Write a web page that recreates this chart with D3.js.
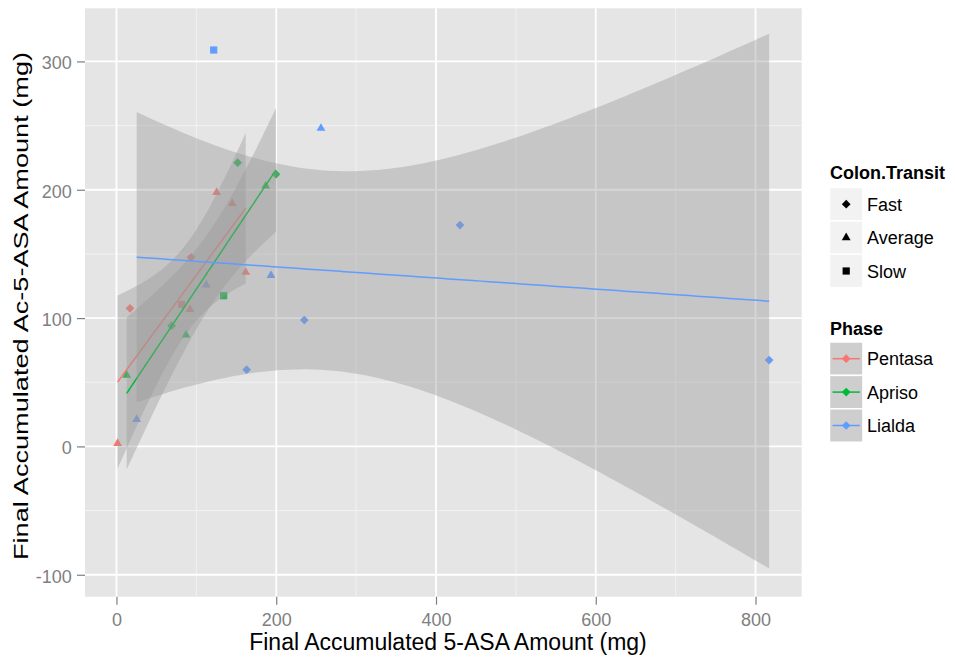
<!DOCTYPE html>
<html>
<head>
<meta charset="utf-8">
<script src="https://cdn.jsdelivr.net/npm/d3@7.9.0/dist/d3.min.js"></script>
<style>
  body { margin: 0; background: #fff; }
  svg { display: block; font-family: "Liberation Sans", Arial, sans-serif; }
</style>
</head>
<body>
<svg id="chart" width="955" height="657"></svg>
<script>
// ---------- DATA ---------- //
const phases = ['Pentasa', 'Apriso', 'Lialda'];
const phaseColors = ['#F8766D', '#00BA38', '#619CFF'];
const transits = ['Fast', 'Average', 'Slow'];

// final accumulated 5-ASA (x) and Ac-5-ASA (y), mg
const pentasaX = [125.4, 145.0, 93.3, 161.8, 16.9, 81.6, 92.0, 1.4];
const pentasaY = [198.0, 189.4, 147.4, 135.7, 107.6, 110.7, 106.8, 2.4];
const pentasaTransit = ['Average', 'Average', 'Fast', 'Average', 'Fast', 'Slow', 'Average', 'Average'];

const aprisoX = [151.7, 199.7, 186.8, 134.2, 69.1, 87.0, 12.8];
const aprisoY = [221.1, 212.0, 202.9, 117.4, 94.1, 86.8, 55.6];
const aprisoTransit = ['Fast', 'Fast', 'Average', 'Slow', 'Fast', 'Average', 'Average'];

const lialdaX = [121.7, 256.0, 430.0, 193.4, 112.4, 235.1, 163.0, 817.0, 25.3];
const lialdaY = [308.9, 247.9, 172.5, 133.3, 125.8, 98.5, 59.8, 67.3, 21.1];
const lialdaTransit = ['Slow', 'Average', 'Fast', 'Average', 'Average', 'Fast', 'Fast', 'Fast', 'Average'];

const xTicks = [0, 200, 400, 600, 800];
const yTicks = [-100, 0, 100, 200, 300];
const xLimits = [-39.4, 857.8];
const yLimits = [-117.1, 341.4];

// t quantiles (0.975) by degrees of freedom
const tCrit = { 1: 12.706, 2: 4.303, 3: 3.182, 4: 2.776, 5: 2.571, 6: 2.447, 7: 2.365, 8: 2.306, 9: 2.262, 10: 2.228 };

const groups = [
  { name: 'Pentasa', xs: pentasaX, ys: pentasaY, tr: pentasaTransit },
  { name: 'Apriso', xs: aprisoX, ys: aprisoY, tr: aprisoTransit },
  { name: 'Lialda', xs: lialdaX, ys: lialdaY, tr: lialdaTransit },
];

// ---------- SETUP ---------- //
const svg = d3.select('#chart');
const panel = { left: 85, right: 801.7, top: 8.3, bottom: 596.7 };

const x = d3.scaleLinear().domain(xLimits).range([panel.left, panel.right]);
const y = d3.scaleLinear().domain(yLimits).range([panel.bottom, panel.top]);
const colors = d3.scaleOrdinal().domain(phases).range(phaseColors);

function shapePath(t) {
  if (t === 'Fast') return d3.symbol(d3.symbolSquare, 38)();
  if (t === 'Average') return d3.symbol(d3.symbolTriangle, 34)();
  return d3.symbol(d3.symbolSquare, 52)();
}
const shapeRotate = (t) => (t === 'Fast' ? 45 : 0);

// panel background + grid
svg.append('rect')
  .attr('x', panel.left).attr('y', panel.top)
  .attr('width', panel.right - panel.left).attr('height', panel.bottom - panel.top)
  .attr('fill', '#E5E5E5');

const mid = (arr) => arr.slice(1).map((v, i) => (v + arr[i]) / 2);
const grid = svg.append('g');
mid(xTicks).forEach((v) => {
  grid.append('line').attr('x1', x(v)).attr('x2', x(v)).attr('y1', panel.top).attr('y2', panel.bottom)
    .attr('stroke', '#F2F2F2').attr('stroke-width', 1);
});
mid(yTicks).forEach((v) => {
  grid.append('line').attr('y1', y(v)).attr('y2', y(v)).attr('x1', panel.left).attr('x2', panel.right)
    .attr('stroke', '#F2F2F2').attr('stroke-width', 1);
});
xTicks.forEach((v) => {
  grid.append('line').attr('x1', x(v)).attr('x2', x(v)).attr('y1', panel.top).attr('y2', panel.bottom)
    .attr('stroke', '#fff').attr('stroke-width', 1.8);
});
yTicks.forEach((v) => {
  grid.append('line').attr('y1', y(v)).attr('y2', y(v)).attr('x1', panel.left).attr('x2', panel.right)
    .attr('stroke', '#fff').attr('stroke-width', 1.8);
});

// points (drawn under the smooths, as ggplot does)
const pts = svg.append('g');
groups.forEach((g) => {
  g.xs.forEach((xv, i) => {
    const t = g.tr[i];
    pts.append('path')
      .attr('d', shapePath(t))
      .attr('transform', `translate(${x(xv)},${y(g.ys[i])}) rotate(${shapeRotate(t)})`)
      .attr('fill', colors(g.name));
  });
});

// ---------- LINEAR FITS WITH 95% CI ---------- //
function lmFit(xs, ys) {
  const n = xs.length;
  const mx = d3.mean(xs), my = d3.mean(ys);
  const sxx = d3.sum(xs, (v) => (v - mx) ** 2);
  const sxy = d3.sum(xs, (v, i) => (v - mx) * (ys[i] - my));
  const b = sxy / sxx, a = my - b * mx;
  const sse = d3.sum(xs, (v, i) => (ys[i] - (a + b * v)) ** 2);
  const s = Math.sqrt(sse / (n - 2));
  const t = tCrit[n - 2];
  const [lo, hi] = d3.extent(xs);
  return d3.range(80).map((k) => {
    const xv = lo + (hi - lo) * k / 79;
    const fit = a + b * xv;
    const se = s * Math.sqrt(1 / n + (xv - mx) ** 2 / sxx);
    return { x: xv, fit, lo: fit - t * se, hi: fit + t * se };
  });
}

const area = d3.area().x((d) => x(d.x)).y0((d) => y(d.lo)).y1((d) => y(d.hi));
const line = d3.line().x((d) => x(d.x)).y((d) => y(d.fit));

const smooth = svg.append('g');
groups.forEach((g) => {
  const fit = lmFit(g.xs, g.ys);
  smooth.append('path').attr('d', area(fit)).attr('fill', '#999999').attr('fill-opacity', 0.4);
  smooth.append('path').attr('d', line(fit)).attr('fill', 'none')
    .attr('stroke', colors(g.name)).attr('stroke-width', 1.5);
});

// ---------- AXES ---------- //
const plainNum = (d) => String(d); // keep the ascii hyphen for negatives
const xAxis = svg.append('g')
  .attr('transform', `translate(0,${panel.bottom})`)
  .call(d3.axisBottom(x).tickValues(xTicks).tickSize(8).tickPadding(8.5).tickFormat(plainNum));
const yAxis = svg.append('g')
  .attr('transform', `translate(${panel.left},0)`)
  .call(d3.axisLeft(y).tickValues(yTicks).tickSize(8).tickPadding(5.3).tickFormat(plainNum));

[xAxis, yAxis].forEach((ax) => {
  ax.select('.domain').remove();
  ax.selectAll('.tick line').attr('stroke', '#7F7F7F').attr('stroke-width', 1.2);
  ax.selectAll('.tick text').attr('fill', '#7F7F7F').attr('font-size', 18)
    .attr('font-family', '"Liberation Sans", Arial, sans-serif');
});
yAxis.selectAll('.tick text').attr('dy', '0.42em');

svg.append('text')
  .attr('x', 448).attr('y', 650)
  .attr('text-anchor', 'middle').attr('font-size', 23).attr('fill', '#000')
  .text('Final Accumulated 5-ASA Amount (mg)');

svg.append('text')
  .attr('transform', 'translate(28,306) rotate(-90)')
  .attr('text-anchor', 'middle').attr('font-size', 21).attr('fill', '#000')
  .attr('textLength', 508).attr('lengthAdjust', 'spacingAndGlyphs')
  .text('Final Accumulated Ac-5-ASA Amount (mg)');

// ---------- LEGENDS ---------- //
const leg = svg.append('g');
const keyX = 829.5, keySize = 33.4;

leg.append('text').attr('x', 830).attr('y', 179)
  .attr('font-size', 18).attr('font-weight', 'bold').text('Colon.Transit');

transits.forEach((t, i) => {
  const top = 187.5 + i * keySize;
  leg.append('rect').attr('x', keyX).attr('y', top).attr('width', keySize).attr('height', keySize)
    .attr('fill', '#F2F2F2').attr('stroke', '#fff').attr('stroke-width', 1.5);
  leg.append('path').attr('d', shapePath(t))
    .attr('transform', `translate(${keyX + keySize / 2},${top + keySize / 2}) rotate(${shapeRotate(t)})`)
    .attr('fill', '#000');
  leg.append('text').attr('x', 867).attr('y', top + keySize / 2 + 6.5)
    .attr('font-size', 18).text(t);
});

leg.append('text').attr('x', 830).attr('y', 335)
  .attr('font-size', 18).attr('font-weight', 'bold').text('Phase');

phases.forEach((p, i) => {
  const top = 342 + i * keySize;
  const cy = top + keySize / 2;
  leg.append('rect').attr('x', keyX).attr('y', top).attr('width', keySize).attr('height', keySize)
    .attr('fill', '#F2F2F2').attr('stroke', '#fff').attr('stroke-width', 1.5);
  leg.append('rect').attr('x', keyX + 0.75).attr('y', top + 0.75)
    .attr('width', keySize - 1.5).attr('height', keySize - 1.5)
    .attr('fill', '#999999').attr('fill-opacity', 0.4);
  leg.append('line').attr('x1', keyX + 3).attr('x2', keyX + keySize - 3).attr('y1', cy).attr('y2', cy)
    .attr('stroke', colors(p)).attr('stroke-width', 1.5);
  leg.append('path').attr('d', shapePath('Fast'))
    .attr('transform', `translate(${keyX + keySize / 2},${cy}) rotate(45)`)
    .attr('fill', colors(p));
  leg.append('text').attr('x', 867).attr('y', cy + 6.5)
    .attr('font-size', 18).text(p);
});
</script>
</body>
</html>
